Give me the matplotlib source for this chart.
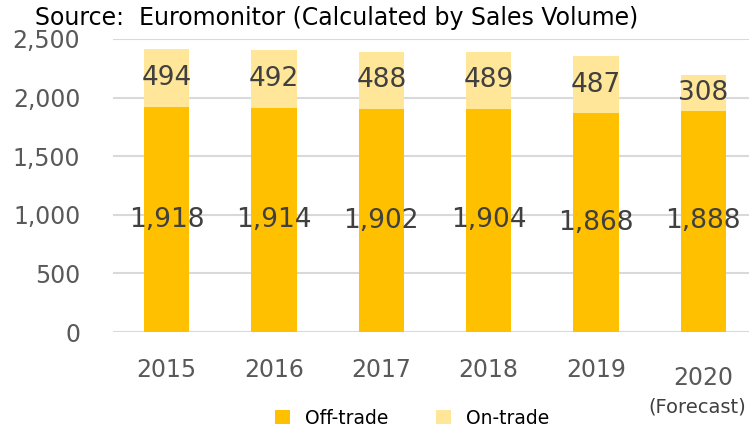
import matplotlib.pyplot as plt
import numpy as np

years = ["2015", "2016", "2017", "2018", "2019", "2020"]
off_trade = [1918, 1914, 1902, 1904, 1868, 1888]
on_trade = [494, 492, 488, 489, 487, 308]

plt.rcParams["font.family"] = ["DejaVu Sans"]

fig = plt.figure(figsize=(7.49, 4.28), dpi=100)
ax = fig.add_axes([113 / 749, 96 / 428, 644 / 749, 293 / 428])

x = np.arange(len(years))
w = 0.42
ax.bar(x, off_trade, w, color="#FFC000", label="Off-trade", zorder=2)
ax.bar(x, on_trade, w, bottom=off_trade, color="#FFE699", label="On-trade", zorder=2)

for i in range(len(years)):
    ax.text(x[i], off_trade[i] / 2, f"{off_trade[i]:,}", ha="center", va="center",
            fontsize=19, color="#404040", zorder=3)
    ax.text(x[i], off_trade[i] + on_trade[i] / 2, f"{on_trade[i]:,}", ha="center",
            va="center", fontsize=19, color="#404040", zorder=3)

ax.set_xlim(-0.5, len(years) - 0.5)
ax.set_ylim(0, 2500)
ax.set_yticks(range(0, 2501, 500))
ax.set_yticklabels([f"{v:,}" for v in range(0, 2501, 500)])
ax.yaxis.grid(True, color="#D9D9D9", linewidth=1.5, zorder=0)
ax.set_axisbelow(True)
for s in ax.spines.values():
    s.set_visible(False)
ax.tick_params(axis="y", length=0, pad=23.5, labelsize=17, labelcolor="#595959")
ax.tick_params(axis="x", length=0, pad=18.5, labelsize=17, labelcolor="#595959")
ax.set_xticks(x)
ax.set_xticklabels(years)
# the forecast year sits a little lower than the others
ax.get_xticklabels()[-1].set_y(-0.027)

fig.text(697 / 749, 1 - 407 / 428, "(Forecast)", fontsize=14, color="#404040",
         ha="center", va="center")

fig.text(35 / 749, 1 - 18 / 428, "Source:  Euromonitor (Calculated by Sales Volume)",
         fontsize=17, color="#000000", va="center", ha="left")

ax.legend(loc="center", bbox_to_anchor=(412 / 749, 1 - 418 / 428),
          bbox_transform=fig.transFigure, ncol=2, frameon=False, fontsize=13.5,
          handlelength=0.8, handleheight=0.8, columnspacing=2.5, handletextpad=0.8)

fig.savefig("out.png", dpi=100)
